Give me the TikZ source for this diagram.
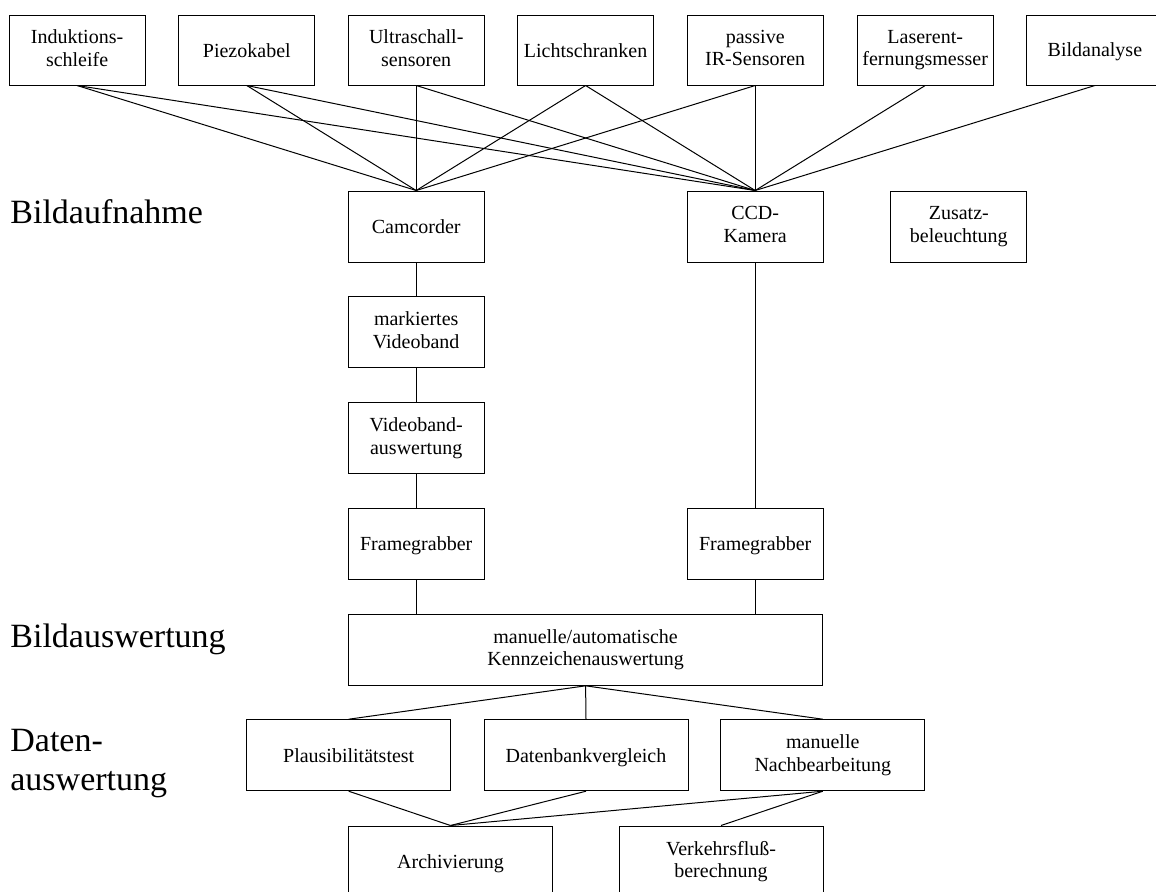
\documentclass[tikz,border=0pt]{standalone}
\usepackage{fontspec}
\setmainfont{Liberation Serif}
\newcommand{\boxstrut}{\rule[-2pt]{0pt}{11pt}}
\begin{document}
\begin{tikzpicture}[x=0.5pt,y=-0.5pt,
  box/.style={draw, line width=0.5pt, rectangle, align=center, inner sep=1pt,
    font=\fontsize{10}{11.2}\selectfont, minimum width=68pt, minimum height=35.5pt,
    execute at begin node=\boxstrut, execute at end node=\boxstrut},
  topbox/.style={box, minimum height=35pt},
  widebox/.style={box, minimum width=102pt},
  lbl/.style={anchor=base west, inner sep=0pt, font=\fontsize{17}{19.5}\selectfont},
  conn/.style={line width=0.5pt}]
\clip (0,0) rectangle (1156,891);
% top row
\node[topbox] (t1) at (77.1,50) {Induktions-\\schleife};
\node[topbox] (t2) at (246.8,50) {Piezokabel};
\node[topbox] (t3) at (416.2,50) {Ultraschall-\\sensoren};
\node[topbox] (t4) at (585.6,50) {Lichtschranken};
\node[topbox] (t5) at (755.2,50) {passive\\IR-Sensoren};
\node[topbox] (t6) at (925.2,50) {Laserent-\\fernungsmesser};
\node[topbox] (t7) at (1094.9,50) {Bildanalyse};
% capture
\node[box] (cam) at (416.2,226.5) {Camcorder};
\node[box] (ccd) at (755.2,226.5) {CCD-\\Kamera};
\node[box] (zus) at (958.8,226.5) {Zusatz-\\beleuchtung};
\node[box] (mv) at (416.2,332.2) {markiertes\\Videoband};
\node[box] (va) at (416.2,438.3) {Videoband-\\auswertung};
\node[box] (fg1) at (416.2,543.7) {Framegrabber};
\node[box] (fg2) at (755.2,543.7) {Framegrabber};
\node[box, minimum width=237pt] (ka) at (585.6,649.8) {manuelle/automatische\\Kennzeichenauswertung};
\node[widebox] (pt) at (348.7,755.2) {Plausibilitätstest};
\node[widebox] (db) at (586,755.2) {Datenbankvergleich};
\node[widebox] (nb) at (822.8,755.2) {manuelle\\Nachbearbeitung};
\node[widebox] (ar) at (450.5,861.5) {Archivierung};
\node[widebox] (vf) at (721,861.5) {Verkehrsfluß-\\berechnung};
% labels
\node[lbl] (l1) at (10,223.3) {Bildaufnahme};
\node[lbl] (l2) at (10,647.3) {Bildauswertung};
\node[lbl] (l3) at (10,751) {Daten-};
\node[lbl] (l4) at (10,790) {auswertung};
% connectors
\foreach \s in {t1,t2,t3,t4,t5} \draw[conn] (\s.south) -- (cam.north);
\foreach \s in {t1,t2,t3,t4,t5,t6,t7} \draw[conn] (\s.south) -- (ccd.north);
\draw[conn] (cam) -- (mv);
\draw[conn] (mv) -- (va);
\draw[conn] (va) -- (fg1);
\draw[conn] (fg1.south) -- (fg1.south |- ka.north);
\draw[conn] (ccd) -- (fg2);
\draw[conn] (fg2.south) -- (fg2.south |- ka.north);
\foreach \s in {pt,db,nb} \draw[conn] (ka.south) -- (\s.north);
\foreach \s in {pt,db,nb} \draw[conn] (\s.south) -- (ar.north);
\draw[conn] (nb.south) -- (vf.north);
\end{tikzpicture}
\end{document}
